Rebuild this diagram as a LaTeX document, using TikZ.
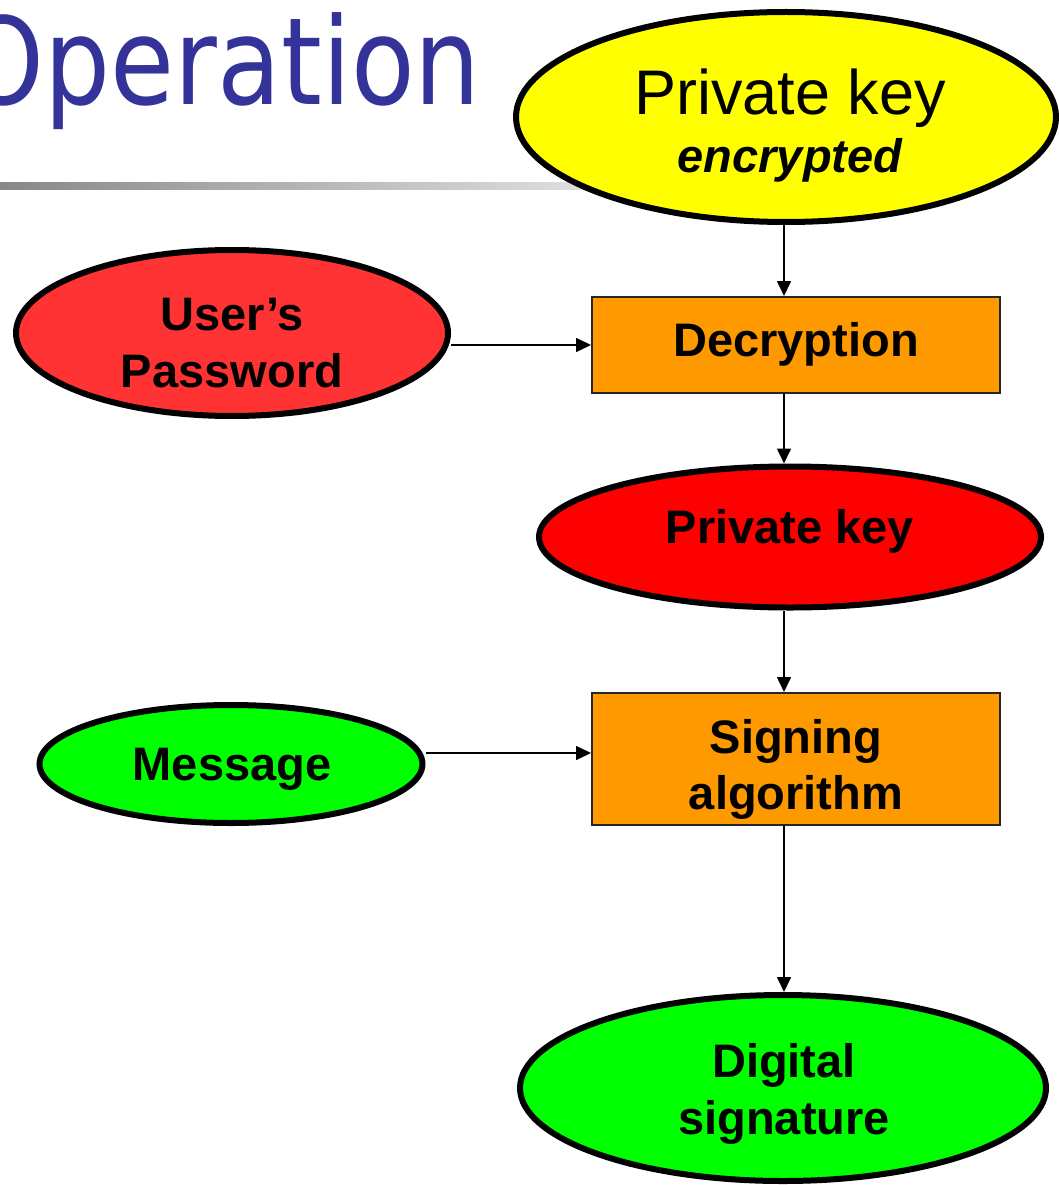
\documentclass[tikz,border=0pt]{standalone}
\usepackage{fontspec}
\usepackage{graphicx}
\setmainfont{Liberation Sans}
\newfontfamily\titlefont{DejaVu Sans}
\usetikzlibrary{shapes.geometric,arrows.meta}
\definecolor{titleblue}{HTML}{333399}
\definecolor{ykey}{HTML}{FFFF00}
\definecolor{pwred}{HTML}{FF3333}
\definecolor{pkred}{HTML}{FF0000}
\definecolor{sgreen}{HTML}{00FF00}
\definecolor{boxorange}{HTML}{FF9900}
\definecolor{lgray}{HTML}{888888}
\tikzset{
  oval/.style={ellipse, draw=black, line width=6pt, inner sep=0pt},
  procbox/.style={rectangle, draw=black!85, line width=2pt, fill=boxorange, inner sep=0pt},
  lbl/.style={inner sep=0pt, align=center, font=\fontsize{47}{57}\selectfont\bfseries},
  arr/.style={draw=black, line width=1.6pt, -{Triangle[length=15pt,width=14pt]}}
}
\begin{document}
\begin{tikzpicture}[x=1pt,y=1pt]
\useasboundingbox (0,0) rectangle (1059,-1185);
\clip (0,0) rectangle (1059,-1185);
% title and rule
\shade[left color=lgray, right color=white] (0,-183) rectangle (800,-190);
\node[anchor=base east, inner sep=0pt, text=titleblue,
  font=\titlefont\fontsize{121}{121}\selectfont] (title) at (481,-105)
  {\scalebox{0.86}[1]{Operation}};
% shapes
\node[oval, fill=ykey, minimum width=540pt, minimum height=210pt] (yk) at (786,-117) {};
\node[oval, fill=pwred, minimum width=432pt, minimum height=166pt] (pw) at (232,-333) {};
\node[procbox, minimum width=408pt, minimum height=96pt] (dec) at (796,-345) {};
\node[oval, fill=pkred, minimum width=502pt, minimum height=141pt] (pk) at (790,-537) {};
\node[oval, fill=sgreen, minimum width=383pt, minimum height=118pt] (msg) at (231,-764) {};
\node[procbox, minimum width=408pt, minimum height=132pt] (sig) at (796,-759) {};
\node[oval, fill=sgreen, minimum width=526pt, minimum height=186pt] (ds) at (783,-1088) {};
% texts
\node[lbl, anchor=base] (ykt1) at (790,-115) {\fontsize{63}{63}\selectfont\mdseries Private key};
\node[lbl, anchor=base] (ykt2) at (790,-172) {\itshape encrypted};
\node[lbl, anchor=base] (pwt1) at (232,-330) {User’s};
\node[lbl, anchor=base] (pwt2) at (232,-387) {Password};
\node[lbl, anchor=base] (dect) at (796,-356) {Decryption};
\node[lbl, anchor=base] (pkt) at (790,-543) {Private key};
\node[lbl, anchor=base] (msgt) at (232,-780) {Message};
\node[lbl, anchor=base] (sigt1) at (796,-753) {Signing};
\node[lbl, anchor=base] (sigt2) at (796,-809) {algorithm};
\node[lbl, anchor=base] (dst1) at (784,-1077) {Digital};
\node[lbl, anchor=base] (dst2) at (784,-1134) {signature};
\coordinate (ax) at (784,0);
% connectors
\draw[arr] (yk.south -| ax) -- (dec.north -| ax);
\draw[arr] (dec.south -| ax) -- (pk.north -| ax);
\draw[arr] (pk.south -| ax) -- (sig.north -| ax);
\draw[arr] (sig.south -| ax) -- (ds.north -| ax);
\draw[arr] (dec.west -| pw.east) -- (dec.west);
\draw[arr] ([yshift=11pt]msg.east) -- ([yshift=11pt]msg.east -| sig.west);
\end{tikzpicture}
\end{document}
